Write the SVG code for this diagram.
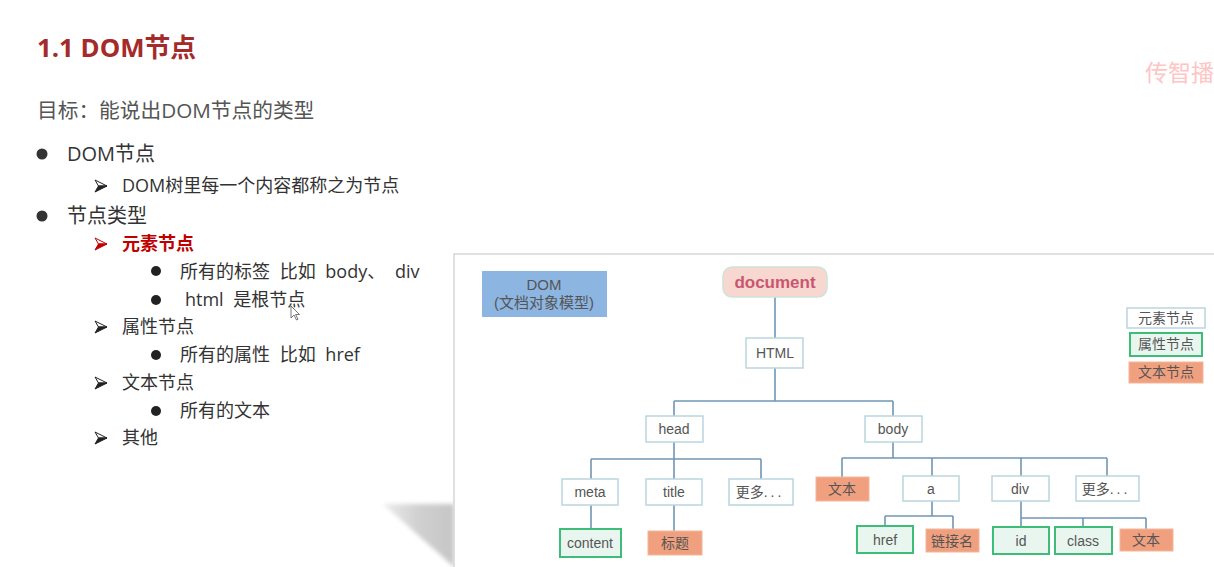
<svg xmlns="http://www.w3.org/2000/svg" width="1214" height="567" viewBox="0 0 1214 567">
  <defs>
    <style>
      .cjk { font-family: "Open Sans", "Noto Sans CJK SC", sans-serif; }
      .title { font-size: 25.8px; font-weight: bold; fill: #a52a2a; }
      .goal { font-size: 20.7px; fill: #555; }
      .l1 { font-size: 20px; fill: #333; }
      .l2 { font-size: 18px; fill: #333; }
      .wide { word-spacing: 5px; }
      .hot { font-weight: bold; fill: #c00000; }
      .lbl { font-family: "Liberation Sans", "Noto Sans CJK SC", sans-serif; font-size: 14px; fill: #555; text-anchor: middle; }
      .elem { fill: #fff; stroke: #b9d6de; stroke-width: 1.5; }
      .attr { fill: #e9f5ef; stroke: #3dbd78; stroke-width: 2; }
      .text { fill: #f0a07e; stroke: #f3b79c; stroke-width: 1; }
      .edge { fill: none; stroke: #7096b4; stroke-width: 1.6; }
      .dots { letter-spacing: 3px; }
    </style>
    <!-- arrow bullet: light upper face, dark lower face -->
    <g id="arrowBullet">
      <polygon points="0,-6 12,0 3.5,0" fill="#fff" stroke="#222" stroke-width="1" stroke-linejoin="round"/>
      <polygon points="3.5,0 12,0 0,6" fill="#222" stroke="#222" stroke-width="1" stroke-linejoin="round"/>
    </g>
    <g id="arrowBulletRed">
      <polygon points="0,-6 12,0 3.5,0" fill="#fff" stroke="#c00000" stroke-width="1" stroke-linejoin="round"/>
      <polygon points="3.5,0 12,0 0,6" fill="#c00000" stroke="#c00000" stroke-width="1" stroke-linejoin="round"/>
    </g>
    <linearGradient id="shadeGrad" x1="0" y1="0" x2="1" y2="0">
      <stop offset="0" stop-color="#ececec"/>
      <stop offset="0.5" stop-color="#d0d0d0"/>
      <stop offset="1" stop-color="#c6c6c6"/>
    </linearGradient>
    <filter id="soft" x="-20%" y="-20%" width="140%" height="140%">
      <feGaussianBlur stdDeviation="2"/>
    </filter>
  </defs>

  <rect width="1214" height="567" fill="#fff"/>

  <!-- heading and goal -->
  <text class="cjk title" x="37" y="57">1.1 DOM节点</text>
  <text class="cjk goal" x="37" y="118">目标：能说出DOM节点的类型</text>
  <text x="1145" y="81" font-family="Noto Sans CJK SC, sans-serif" font-size="23" fill="#ffc4c4">传智播</text>

  <!-- outline list -->
  <g id="outline">
    <circle cx="42" cy="154" r="5.5" fill="#333"/>
    <text class="cjk l1" x="67" y="161">DOM节点</text>
    <use href="#arrowBullet" x="95" y="186"/>
    <text class="cjk l2" x="122" y="192">DOM树里每一个内容都称之为节点</text>

    <circle cx="42" cy="216" r="5.5" fill="#333"/>
    <text class="cjk l1" x="67" y="223">节点类型</text>
    <use href="#arrowBulletRed" x="95" y="244"/>
    <text class="cjk l2 hot" x="122" y="250">元素节点</text>
    <circle cx="156" cy="271" r="5" fill="#222"/>
    <text class="cjk l2 wide" x="180" y="278">所有的标签 比如 body、 div</text>
    <circle cx="156" cy="300" r="5" fill="#222"/>
    <text class="cjk l2 wide" x="185" y="306">html 是根节点</text>
    <use href="#arrowBullet" x="95" y="327"/>
    <text class="cjk l2" x="122" y="333">属性节点</text>
    <circle cx="156" cy="355" r="5" fill="#222"/>
    <text class="cjk l2 wide" x="180" y="361">所有的属性 比如 href</text>
    <use href="#arrowBullet" x="95" y="383"/>
    <text class="cjk l2" x="122" y="389">文本节点</text>
    <circle cx="156" cy="411" r="5" fill="#222"/>
    <text class="cjk l2" x="180" y="417">所有的文本</text>
    <use href="#arrowBullet" x="95" y="438"/>
    <text class="cjk l2" x="122" y="444">其他</text>
  </g>

  <!-- mouse pointer -->
  <path d="M291 306 L291 318 L294 315 L296.5 320 L298 319.3 L295.6 314.5 L299.5 314.5 Z" fill="#fff" stroke="#555" stroke-width="0.8"/>

  <!-- picture frame and its drop shadow -->
  <polygon points="383,504 454,504 454,567" fill="url(#shadeGrad)" filter="url(#soft)"/>
  <rect x="454" y="254" width="770" height="330" fill="#fff" stroke="#d6d6d6" stroke-width="1.5"/>

  <!-- connectors -->
  <g id="connectors" class="edge">
    <path class="edge" d="M775 297 V338"/>
    <path class="edge" d="M775 368 V401 M674 401 H893 M674 401 V416 M893 401 V416"/>
    <path class="edge" d="M674 442 V459 M591 459 H761 M591 459 V479 M674 459 V479 M761 459 V479"/>
    <path class="edge" d="M591 505 V529 M674 505 V531"/>
    <path class="edge" d="M893 442 V458 M842 458 H1107 M842 458 V477 M932 458 V476 M1021 458 V476 M1107 458 V476"/>
    <path class="edge" d="M932 501 V516 M885 516 H953 M885 516 V526 M953 516 V529"/>
    <path class="edge" d="M1021 501 V527 M1021 518 H1146 M1083 518 V527 M1146 518 V529"/>
  </g>

  <!-- caption box -->
  <g id="dom-caption">
    <rect x="482" y="271" width="125" height="46" fill="#8cb5e2"/>
    <text class="lbl" x="544" y="290" style="font-size:15px">DOM</text>
    <text class="lbl" x="544" y="308" style="font-size:15px">(文档对象模型)</text>
  </g>

  <!-- tree nodes -->
  <g id="document">
    <rect x="723" y="267" width="104" height="30" rx="9" fill="#f8d7d0" stroke="#cfe3d8" stroke-width="1.5"/>
    <text class="lbl" x="775" y="288" style="font-size:17px;font-weight:bold;fill:#c9566f">document</text>
  </g>
  <g id="html">
    <rect class="elem" x="746" y="338" width="57" height="30"/>
    <text class="lbl" x="775" y="358">HTML</text>
  </g>
  <g id="head">
    <rect class="elem" x="646" y="416" width="57" height="26"/>
    <text class="lbl" x="674" y="434">head</text>
  </g>
  <g id="body">
    <rect class="elem" x="865" y="416" width="57" height="26"/>
    <text class="lbl" x="893" y="434">body</text>
  </g>
  <g id="meta">
    <rect class="elem" x="562" y="479" width="56" height="26"/>
    <text class="lbl" x="590" y="497">meta</text>
  </g>
  <g id="title">
    <rect class="elem" x="646" y="479" width="56" height="26"/>
    <text class="lbl" x="674" y="497">title</text>
  </g>
  <g id="head-more">
    <rect class="elem" x="729" y="479" width="64" height="26"/>
    <text class="lbl" x="760" y="497">更多<tspan class="dots">...</tspan></text>
  </g>
  <g id="content">
    <rect class="attr" x="560" y="529" width="61" height="28"/>
    <text class="lbl" x="590" y="548">content</text>
  </g>
  <g id="title-text">
    <rect class="text" x="648" y="531" width="54" height="24"/>
    <text class="lbl" x="675" y="548">标题</text>
  </g>
  <g id="body-text">
    <rect class="text" x="816" y="477" width="53" height="24"/>
    <text class="lbl" x="842" y="494">文本</text>
  </g>
  <g id="a">
    <rect class="elem" x="903" y="476" width="56" height="25"/>
    <text class="lbl" x="931" y="494">a</text>
  </g>
  <g id="div">
    <rect class="elem" x="992" y="476" width="57" height="25"/>
    <text class="lbl" x="1020" y="494">div</text>
  </g>
  <g id="body-more">
    <rect class="elem" x="1076" y="476" width="63" height="25"/>
    <text class="lbl" x="1106" y="494">更多<tspan class="dots">...</tspan></text>
  </g>
  <g id="href">
    <rect class="attr" x="857" y="526" width="56" height="27"/>
    <text class="lbl" x="885" y="545">href</text>
  </g>
  <g id="link-name">
    <rect class="text" x="926" y="529" width="53" height="23"/>
    <text class="lbl" x="952" y="546">链接名</text>
  </g>
  <g id="id">
    <rect class="attr" x="993" y="527" width="56" height="27"/>
    <text class="lbl" x="1021" y="546">id</text>
  </g>
  <g id="class">
    <rect class="attr" x="1055" y="527" width="57" height="27"/>
    <text class="lbl" x="1083" y="546">class</text>
  </g>
  <g id="div-text">
    <rect class="text" x="1120" y="529" width="53" height="22"/>
    <text class="lbl" x="1146" y="545">文本</text>
  </g>

  <!-- legend -->
  <g id="legend-element">
    <rect class="elem" x="1127" y="308" width="78" height="20"/>
    <text class="lbl" x="1166" y="323">元素节点</text>
  </g>
  <g id="legend-attribute">
    <rect class="attr" x="1130" y="333" width="72" height="23"/>
    <text class="lbl" x="1166" y="349">属性节点</text>
  </g>
  <g id="legend-text">
    <rect class="text" x="1129" y="362" width="74" height="21"/>
    <text class="lbl" x="1166" y="377">文本节点</text>
  </g>
</svg>
